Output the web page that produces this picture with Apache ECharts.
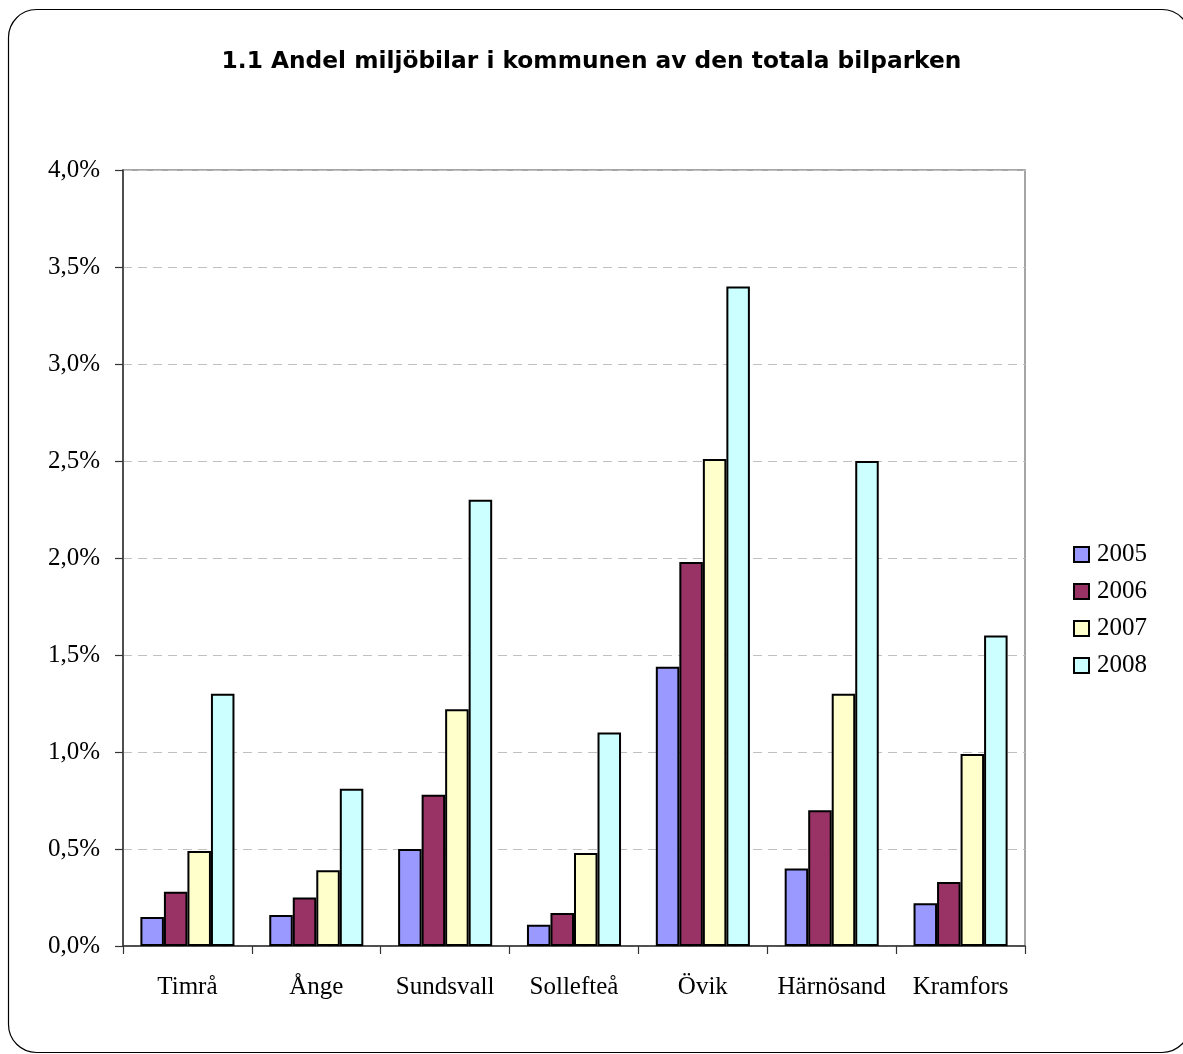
<!DOCTYPE html>
<html>
<head>
<meta charset="utf-8">
<script src="https://cdn.jsdelivr.net/npm/echarts@6/dist/echarts.min.js"></script>
<style>
html,body{margin:0;padding:0;background:#fff;}
#chart{width:1183px;height:1054px;}
</style>
</head>
<body>
<div id="chart"></div>
<script>
var categories = ['Timrå', 'Ånge', 'Sundsvall', 'Sollefteå', 'Övik', 'Härnösand', 'Kramfors'];
var years = ['2005', '2006', '2007', '2008'];
var v2005 = [0.15, 0.16, 0.50, 0.11, 1.44, 0.40, 0.22];
var v2006 = [0.28, 0.25, 0.78, 0.17, 1.98, 0.70, 0.33];
var v2007 = [0.49, 0.39, 1.22, 0.48, 2.51, 1.30, 0.99];
var v2008 = [1.30, 0.81, 2.30, 1.10, 3.40, 2.50, 1.60];
var yTicks = { min: 0, max: 4, interval: 0.5 };

var colors = ['#9999FF', '#993366', '#FFFFCC', '#CCFFFF'];
var seriesValues = [v2005, v2006, v2007, v2008];

var chart = echarts.init(document.getElementById('chart'));
var serif = '"Liberation Serif", "Times New Roman", serif';

var option = {
  animation: false,
  backgroundColor: '#ffffff',
  title: {
    text: '1.1 Andel miljöbilar i kommunen av den totala bilparken',
    left: 'center',
    top: 45,
    textStyle: { fontFamily: '"DejaVu Sans", sans-serif', fontWeight: 'bold', fontSize: 23.3, color: '#000' }
  },
  graphic: [{
    type: 'rect',
    shape: { x: 8.5, y: 9.5, width: 1181.5, height: 1043, r: 28 },
    style: { fill: 'none', stroke: '#000', lineWidth: 1.2 },
    z: 100
  }],
  legend: {
    orient: 'vertical',
    left: 1068,
    top: 537,
    itemWidth: 15,
    itemHeight: 15,
    itemGap: 12,
    icon: 'rect',
    data: years,
    textStyle: { fontFamily: serif, fontSize: 25, color: '#000', padding: [0, 0, 0, 3] }
  },
  grid: {
    left: 123, right: 158, top: 170, bottom: 108,
    show: true, borderColor: '#888', borderWidth: 1.5, backgroundColor: 'transparent'
  },
  xAxis: {
    type: 'category',
    data: categories,
    axisLine: { lineStyle: { color: '#333', width: 1.5 } },
    axisTick: { show: true, length: 8, lineStyle: { color: '#333', width: 1.2 } },
    axisLabel: { fontFamily: serif, fontSize: 25, color: '#000', margin: 29, interval: 0 }
  },
  yAxis: {
    type: 'value',
    min: yTicks.min, max: yTicks.max, interval: yTicks.interval,
    axisLine: { show: true, lineStyle: { color: '#333', width: 1.5 } },
    axisTick: { show: true, length: 8, lineStyle: { color: '#333', width: 1.2 } },
    axisLabel: {
      fontFamily: serif, fontSize: 25, color: '#000', margin: 23,
      formatter: function (v) { return v.toFixed(1).replace('.', ',') + '%'; }
    },
    splitLine: { show: true, lineStyle: { color: '#c0c0c0', type: [9, 6], width: 1.2 } }
  },
  series: years.map(function (y, i) {
    return {
      name: y,
      type: 'bar',
      data: seriesValues[i],
      barGap: '0%',
      barCategoryGap: '27%',
      itemStyle: { color: colors[i], borderColor: '#000', borderWidth: 2 }
    };
  })
};
chart.setOption(option);
</script>
</body>
</html>
